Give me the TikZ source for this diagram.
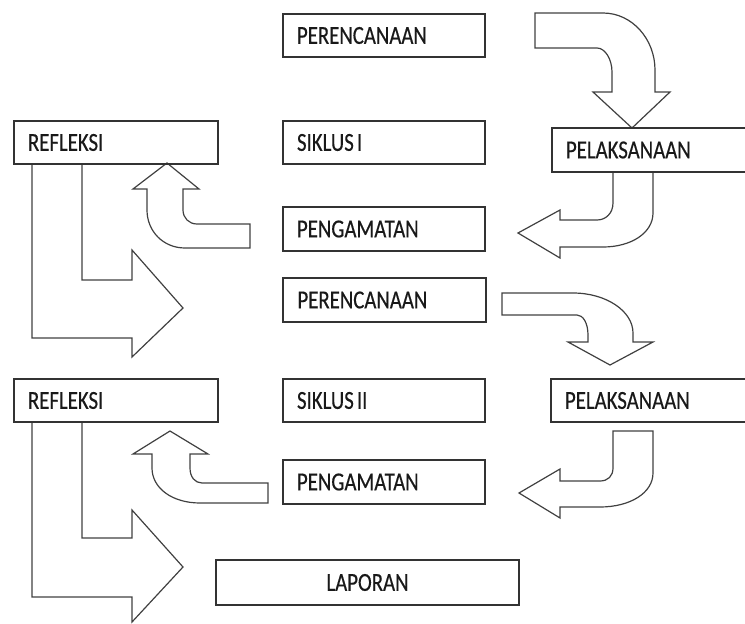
\documentclass[tikz,border=0pt]{standalone}
\usepackage{fontspec}
\setmainfont{Carlito}[FakeStretch=0.8, FakeBold=0.4]
\begin{document}
\begin{tikzpicture}[x=1pt,y=-1pt,
  box/.style={draw=black!80, line width=1.3pt, anchor=north west, outer sep=0pt,
    inner xsep=14pt, inner ysep=0pt, minimum width=202pt, minimum height=43pt,
    text width=174pt, align=left, font=\fontsize{26}{30}\selectfont, text=black!90},
  cbox/.style={box, align=center},
  blk/.style={draw=black!75, line width=1.2pt, line join=miter}]
\useasboundingbox (0,0) rectangle (745,624);
% arrow: perencanaan 1 -> pelaksanaan 1
\draw[blk] (535,13) -- (603,13) .. controls (632,13) and (655,39) .. (655,70) -- (655,92)
  -- (670,92) -- (632,128) -- (593,92) -- (612,92) -- (612,72)
  .. controls (612,59) and (605,48) .. (597,48) -- (535,48) -- cycle;
% arrow: pelaksanaan 1 -> pengamatan 1
\draw[blk] (613,172) -- (613,203) .. controls (613,213) and (606,220) .. (597,220)
  -- (560,220) -- (560,210) -- (518,233) -- (560,258) -- (560,247) -- (603,247)
  .. controls (631,247) and (653,233) .. (653,213) -- (653,172);
% arrow: pengamatan 1 -> refleksi 1
\draw[blk] (250,224) -- (197,224) .. controls (189,224) and (183,218) .. (183,210)
  -- (183,189) -- (199,189) -- (167,163) -- (133,189) -- (147,189) -- (147,210)
  .. controls (147,231) and (163,248) .. (185,248) -- (250,248) -- cycle;
% arrow: refleksi 1 -> perencanaan 2
\draw[blk] (32,163) -- (32,338) -- (132,338) -- (132,357) -- (183,308) -- (132,250)
  -- (132,280) -- (82,280) -- (82,163);
% arrow: perencanaan 2 -> pelaksanaan 2
\draw[blk] (502,293) -- (573,293) .. controls (606,293) and (633,311) .. (633,333)
  -- (633,342) -- (653,342) -- (610,365) -- (568,342) -- (588,342) -- (588,335)
  .. controls (588,323) and (583,315) .. (577,315) -- (502,315) -- cycle;
% arrow: pelaksanaan 2 -> pengamatan 2
\draw[blk] (613,431) -- (613,468) .. controls (613,476) and (608,481) .. (600,481)
  -- (560,481) -- (560,469) -- (519,493) -- (560,518) -- (560,507) -- (600,507)
  .. controls (630,507) and (653,493) .. (653,473) -- (653,431) -- cycle;
% arrow: pengamatan 2 -> refleksi 2
\draw[blk] (268,483) -- (202,483) .. controls (195,483) and (190,477) .. (190,468)
  -- (190,454) -- (208,454) -- (170,431) -- (133,454) -- (152,454) -- (152,468)
  .. controls (152,488) and (172,503) .. (200,503) -- (268,503) -- cycle;
% arrow: refleksi 2 -> laporan
\draw[blk] (32,422) -- (32,597) -- (132,597) -- (132,622) -- (183,567) -- (132,510)
  -- (132,538) -- (82,538) -- (82,422);
\begin{scope}
\clip (0,0) rectangle (745,624);
% boxes
\node[box] (per1) at (283,14) {PERENCANAAN};
\node[box] (sik1) at (283,121) {SIKLUS\hspace{0.12em}I};
\node[box, minimum width=204pt, text width=176pt] (ref1) at (14,121) {REFLEKSI};
\node[box, minimum width=200pt, text width=172pt, minimum height=44pt] (pel1) at (552,128) {PELAKSANAAN};
\node[box, minimum height=44pt] (pen1) at (283,207) {PENGAMATAN};
\node[box, minimum width=203pt, minimum height=44pt] (per2) at (283,278) {PERENCANAAN};
\node[box] (sik2) at (283,379) {SIKLUS\hspace{0.12em}II};
\node[box, minimum width=204pt, text width=176pt] (ref2) at (14,379) {REFLEKSI};
\node[box, minimum width=200pt, text width=172pt] (pel2) at (551,379) {PELAKSANAAN};
\node[box, minimum height=44pt] (pen2) at (283,460) {PENGAMATAN};
\node[cbox, minimum width=303pt, text width=275pt, minimum height=45pt] (lap) at (216,560) {LAPORAN};
\end{scope}
\end{tikzpicture}
\end{document}
